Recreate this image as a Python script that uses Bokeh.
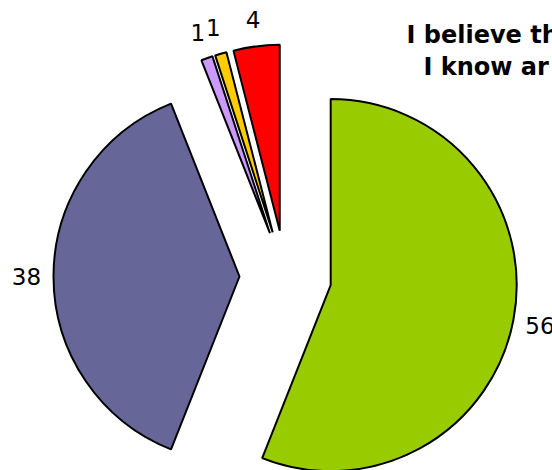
import math
from bokeh.plotting import figure
from bokeh.models import Range1d, ColumnDataSource
from bokeh.core.properties import value
from bokeh.embed import file_html
from bokeh.resources import INLINE

# ---- data ----
values = [56, 38, 1, 1, 4]
labels = ["56", "38", "1", "1", "4"]
colors = ["#99CC00", "#666699", "#CC99FF", "#FFCC00", "#FF0000"]
title_lines = ["I believe th", "I know ar"]

W, H = 552, 470
p = figure(width=W, height=H, output_backend="svg", toolbar_location=None,
           x_range=Range1d(0, W), y_range=Range1d(0, H), min_border=0)
p.axis.visible = False
p.grid.visible = False
p.outline_line_color = None
p.background_fill_color = "white"
p.border_fill_color = "white"

cx, cy = 285, H - 276
radius = 186
explode = 46
label_dist = 213

total = float(sum(values))
xs, ys, starts, ends, lx, ly = [], [], [], [], [], []
cum = 0.0
for v in values:
    t1 = cum / total * 2 * math.pi
    cum += v
    t2 = cum / total * 2 * math.pi
    mid = (t1 + t2) / 2
    dx, dy = math.sin(mid), math.cos(mid)
    x0, y0 = cx + explode * dx, cy + explode * dy
    xs.append(x0); ys.append(y0)
    starts.append(math.pi / 2 - t2)
    ends.append(math.pi / 2 - t1)
    lx.append(x0 + label_dist * dx)
    ly.append(y0 + label_dist * dy)

src = ColumnDataSource(dict(x=xs, y=ys, start=starts, end=ends, color=colors,
                            lx=lx, ly=ly, label=labels))
p.wedge(x="x", y="y", radius=radius, start_angle="start", end_angle="end",
        fill_color="color", line_color="black", line_width=2, source=src)
p.text(x="lx", y="ly", text="label", source=src, text_align="center",
       text_baseline="middle", text_font=value("DejaVu Sans"),
       text_font_size="23px", text_color="black")

p.text(x=[406, 423], y=[H - 34, H - 66], text=title_lines, text_align="left",
       text_baseline="alphabetic", text_font=value("DejaVu Sans"),
       text_font_style="bold", text_font_size="24px", text_color="black")

open("out.html", "w").write(file_html(p, INLINE))
